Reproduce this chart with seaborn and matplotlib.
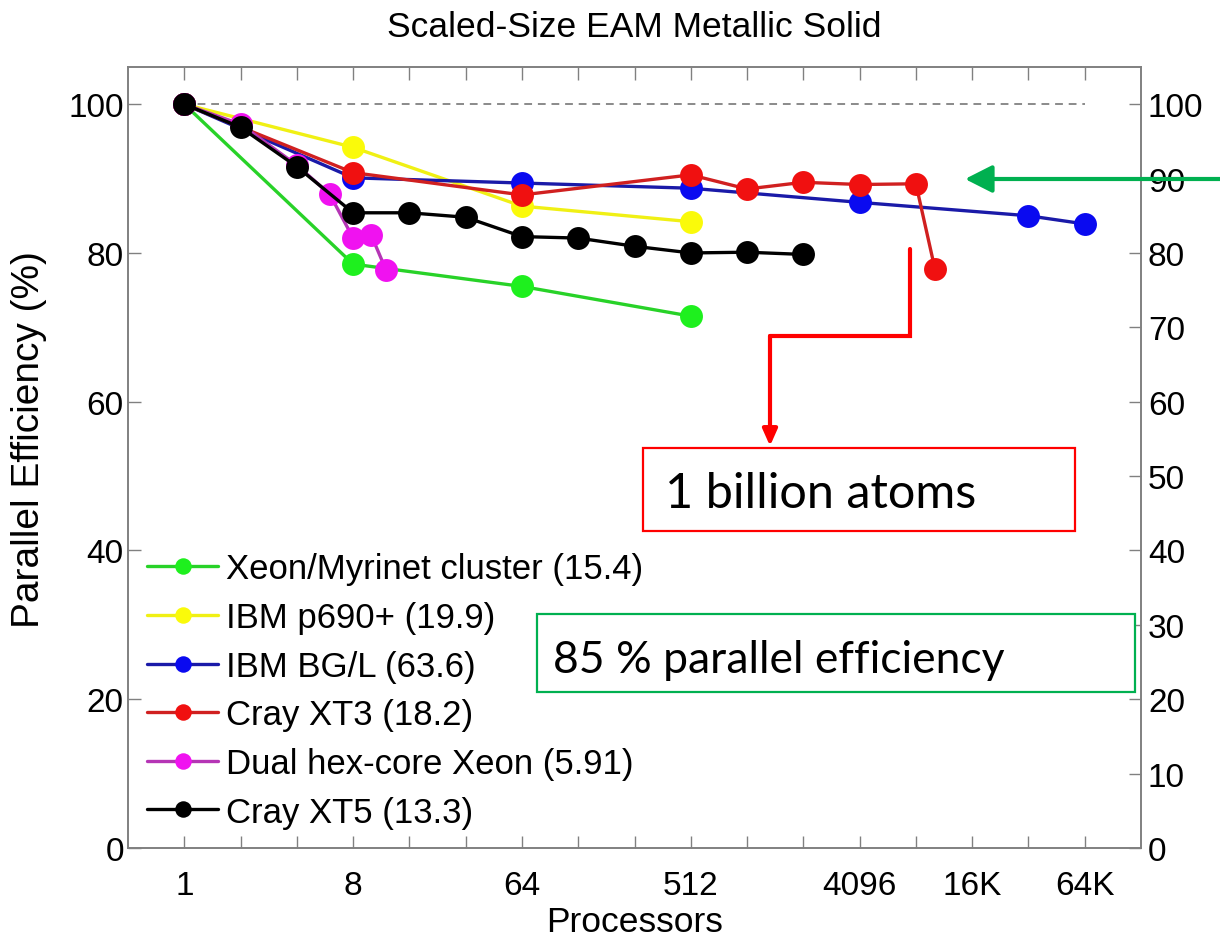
import numpy as np
import pandas as pd
import matplotlib
matplotlib.use("Agg")
import matplotlib.pyplot as plt
import seaborn as sns
from matplotlib.lines import Line2D
from matplotlib.patches import Rectangle, FancyArrowPatch
from matplotlib.ticker import NullLocator

# ---------------- data ----------------
title = "Scaled-Size EAM Metallic Solid"
xlabel = "Processors"
ylabel = "Parallel Efficiency (%)"

series_names = [
    "Xeon/Myrinet cluster (15.4)",
    "IBM p690+ (19.9)",
    "IBM BG/L (63.6)",
    "Cray XT3 (18.2)",
    "Dual hex-core Xeon (5.91)",
    "Cray XT5 (13.3)",
]

procs_xeon = [1, 8, 64, 512]
eff_xeon = [100, 78.5, 75.5, 71.5]

procs_p690 = [1, 8, 64, 512]
eff_p690 = [100, 94.2, 86.3, 84.2]

procs_bgl = [1, 8, 64, 512, 4096, 32768, 65536]
eff_bgl = [100, 90.1, 89.4, 88.7, 86.8, 85.0, 83.9]

procs_xt3 = [1, 8, 64, 512, 1024, 2048, 4096, 8192, 10368]
eff_xt3 = [100, 90.8, 87.8, 90.5, 88.6, 89.5, 89.2, 89.3, 77.8]

procs_hex = [1, 2, 4, 6, 8, 10, 12]
eff_hex = [100, 97.3, 91.8, 87.9, 82.0, 82.4, 77.7]

procs_xt5 = [1, 2, 4, 8, 16, 32, 64, 128, 256, 512, 1024, 2048]
eff_xt5 = [100, 96.9, 91.6, 85.4, 85.4, 84.8, 82.2, 82.0, 80.9, 80.0, 80.1, 79.8]

ideal_procs = [1, 65536]
ideal_eff = [100, 100]

xtick_values = [1, 8, 64, 512, 4096, 16384, 65536]
xtick_labels = ["1", "8", "64", "512", "4096", "16K", "64K"]
yticks_left = [0, 20, 40, 60, 80, 100]
yticks_right = [0, 10, 20, 30, 40, 50, 60, 70, 80, 90, 100]

annot_atoms = "1 billion atoms"
annot_eff = "85 % parallel efficiency"

# ---------------- style ----------------
line_colors = ["#28d228", "#f0f014", "#1a1aa8", "#d02020", "#b535b5", "#000000"]
marker_colors = ["#1ef01e", "#fafa0a", "#0a0af0", "#f01010", "#f012f0", "#000000"]

sns.set_style("white")
plt.rcParams["font.family"] = ["Liberation Sans", "DejaVu Sans"]
plt.rcParams["text.color"] = "black"
plt.rcParams["axes.labelcolor"] = "black"

W, H = 1220, 937
fig = plt.figure(figsize=(W / 100, H / 100), dpi=100)
fig.patch.set_facecolor("white")


def fx(px):
    return px / W


def fy(py):
    return 1 - py / H


ax = fig.add_axes([fx(128), fy(849), (1141 - 128) / W, (849 - 68) / H])

sns.lineplot(x=ideal_procs, y=ideal_eff, ax=ax, color="#8a8a8a",
             linestyle=(0, (4, 3)), linewidth=1.4, estimator=None, sort=False)

all_data = [
    (procs_xeon, eff_xeon),
    (procs_p690, eff_p690),
    (procs_bgl, eff_bgl),
    (procs_xt3, eff_xt3),
    (procs_hex, eff_hex),
    (procs_xt5, eff_xt5),
]

for (p, e), name, lc, mc in zip(all_data, series_names, line_colors, marker_colors):
    sns.lineplot(x=p, y=e, ax=ax, color=lc, linewidth=2.4, marker="o",
                 markersize=16.5, markerfacecolor=mc, markeredgecolor=mc,
                 markeredgewidth=0, label=name, estimator=None, sort=False)

ax.set_xscale("log", base=2)
ax.set_xlim(0.5, 131072)
ax.set_ylim(0, 105)

major = [2 ** k for k in range(0, 17)]
labels = [xtick_labels[xtick_values.index(v)] if v in xtick_values else "" for v in major]
ax.set_xticks(major)
ax.set_xticklabels(labels)
ax.xaxis.set_minor_locator(NullLocator())
ax.set_yticks(yticks_left)

spine_col = "#808080"
for s in ax.spines.values():
    s.set_color(spine_col)
    s.set_linewidth(1.2)

ax.tick_params(axis="x", direction="in", length=9, width=1.0, color=spine_col,
               labelcolor="black", top=True, bottom=True, labelsize=24, pad=16)
ax.tick_params(axis="y", direction="in", length=9, width=1.0, color=spine_col,
               labelcolor="black", left=True, right=False, labelsize=24, pad=3)

ax2 = ax.twinx()
ax2.set_ylim(0, 105)
ax2.set_yticks(yticks_right)
ax2.tick_params(axis="y", direction="in", length=9, width=1.0, color=spine_col,
                labelcolor="black", labelsize=24, pad=5)
for s in ax2.spines.values():
    s.set_color(spine_col)
    s.set_linewidth(1.2)

ax.set_xlabel(xlabel, fontsize=25.5, labelpad=3)
ax.set_ylabel(ylabel, fontsize=28)
ax.yaxis.set_label_coords(-0.080, 0.524)
ax.set_title(title, fontsize=25.5, pad=22)

leg = ax.legend(loc="lower left", bbox_to_anchor=(0.012, 0.016), frameon=False,
                fontsize=25, handlelength=2.05, handletextpad=0.22,
                labelspacing=0.45, borderaxespad=0, borderpad=0.2, markerscale=0.72)
for t in leg.get_texts():
    t.set_color("black")

# ---------------- annotations ----------------
red = "#ff0000"
green = "#00b050"

fig.add_artist(Line2D([fx(910), fx(910), fx(770)], [fy(250), fy(337), fy(337)],
                      transform=fig.transFigure, color=red, linewidth=3,
                      solid_joinstyle="miter"))
fig.add_artist(FancyArrowPatch((fx(770), fy(337)), (fx(770), fy(447)),
                               transform=fig.transFigure, color=red, linewidth=3,
                               arrowstyle="-|>,head_length=0.45,head_width=0.2",
                               mutation_scale=22, shrinkA=0, shrinkB=0))

fig.add_artist(FancyArrowPatch((fx(1220), fy(180)), (fx(965), fy(180)),
                               transform=fig.transFigure, color=green, linewidth=3,
                               arrowstyle="-|>,head_length=0.75,head_width=0.38",
                               mutation_scale=22, shrinkA=0, shrinkB=0))

fig.add_artist(Rectangle((fx(643), fy(532)), (1075 - 643) / W, (532 - 449) / H,
                         transform=fig.transFigure, facecolor="white",
                         edgecolor=red, linewidth=1.6))
fig.text(fx(665), fy(508), annot_atoms, fontsize=35, family=["Lato", "DejaVu Sans"],
         va="baseline", ha="left", color="black")

fig.add_artist(Rectangle((fx(537), fy(693)), (1135 - 537) / W, (693 - 615) / H,
                         transform=fig.transFigure, facecolor="white",
                         edgecolor=green, linewidth=1.6))
fig.text(fx(553), fy(673), annot_eff, fontsize=32, family=["Lato", "DejaVu Sans"],
         va="baseline", ha="left", color="black")

fig.savefig("out.png", dpi=100)
